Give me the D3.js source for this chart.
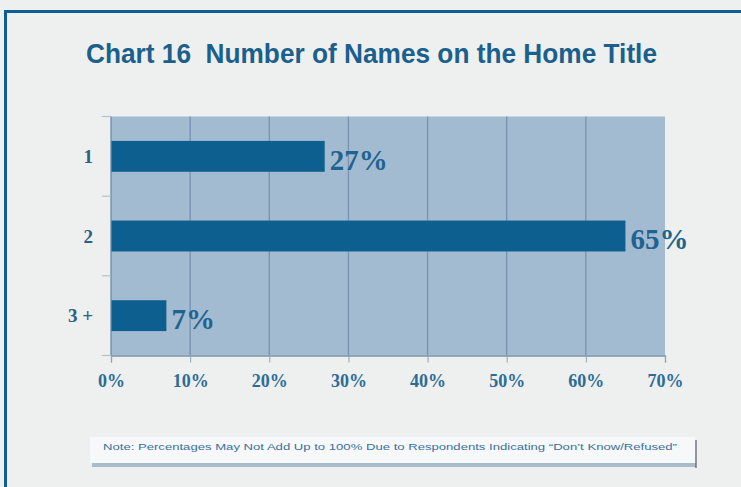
<!DOCTYPE html>
<html>
<head>
<meta charset="utf-8">
<script src="https://cdn.jsdelivr.net/npm/d3@7"></script>
<style>
  html, body { margin: 0; padding: 0; background: #eef0ef; }
  svg { display: block; }
</style>
</head>
<body>
<svg id="chart" width="741" height="487"></svg>
<script>
// Number of names on the home title (share of respondents)
const categories = ["1", "2", "3 +"];
const values = [27, 65, 7];
const xTicks = [0, 10, 20, 30, 40, 50, 60, 70];
const titleText = "Chart 16\u00a0 Number of Names on the Home Title";
const noteText = "Note: Percentages May Not Add Up to 100% Due to Respondents Indicating \u201cDon\u2019t Know/Refused\u201d";

const W = 741, H = 487;
const plot = { left: 111, top: 116.5, right: 665, bottom: 355.5 };

const svg = d3.select("#chart");

// page background and frame (top and left rules)
svg.append("rect").attr("width", W).attr("height", H).attr("fill", "#eef0ef");
svg.append("rect").attr("x", 4).attr("y", 10).attr("width", W - 4).attr("height", 3).attr("fill", "#0e5f91");
svg.append("rect").attr("x", 4).attr("y", 10).attr("width", 3).attr("height", H - 10).attr("fill", "#0e5f91");

// title
svg.append("text")
  .attr("x", 86).attr("y", 62.5)
  .attr("textLength", 571).attr("lengthAdjust", "spacingAndGlyphs")
  .attr("font-family", "'Liberation Sans', Arial, sans-serif")
  .attr("font-weight", "bold").attr("font-size", 27)
  .attr("fill", "#1b5f8c")
  .style("white-space", "pre")
  .text(titleText);

const x = d3.scaleLinear().domain([0, 70]).range([plot.left, plot.right]);
const y = d3.scaleBand().domain(categories).range([plot.top, plot.bottom])
  .paddingInner(0.6125).paddingOuter(0.30625);

// plot area
svg.append("rect")
  .attr("x", plot.left).attr("y", plot.top)
  .attr("width", plot.right - plot.left).attr("height", plot.bottom - plot.top)
  .attr("fill", "#a3bbd1");

// vertical gridlines
svg.append("g").selectAll("line").data(xTicks.slice(1, -1)).join("line")
  .attr("x1", d => x(d)).attr("x2", d => x(d))
  .attr("y1", plot.top).attr("y2", plot.bottom)
  .attr("stroke", "#7893b0").attr("stroke-width", 1.3);

// bars
svg.append("g").selectAll("rect").data(values).join("rect")
  .attr("x", x(0))
  .attr("y", (d, i) => y(categories[i]))
  .attr("width", d => x(d) - x(0))
  .attr("height", y.bandwidth())
  .attr("fill", "#0d5f8f");

// value labels
svg.append("g").selectAll("text").data(values).join("text")
  .attr("x", d => x(d) + 5)
  .attr("y", (d, i) => y(categories[i]) + y.bandwidth() - 2)
  .attr("font-family", "'Liberation Serif', 'Times New Roman', serif")
  .attr("font-weight", "bold").attr("font-size", 29)
  .attr("fill", "#1e648f")
  .text(d => d + "%");

// x axis
const xAxis = d3.axisBottom(x).tickValues(xTicks).tickSize(7).tickPadding(12)
  .tickFormat(d => d + "%");
const gx = svg.append("g").attr("transform", `translate(0,${plot.bottom})`).call(xAxis);
gx.select(".domain").attr("stroke", "#7a92ab").attr("stroke-width", 1.3);
gx.selectAll(".tick line").attr("stroke", "#8ea3b8");
gx.selectAll(".tick text")
  .attr("font-family", "'Liberation Serif', 'Times New Roman', serif")
  .attr("font-weight", "bold").attr("font-size", 18)
  .attr("fill", "#2c6c97");

// y axis: labels per category, ticks on band boundaries
const gy = svg.append("g");
gy.append("line")
  .attr("x1", plot.left).attr("x2", plot.left)
  .attr("y1", plot.top).attr("y2", plot.bottom)
  .attr("stroke", "#6f8aa6").attr("stroke-width", 1.3);
const bounds = [plot.top, ...categories.slice(1).map(c => y(c) - y.step() * y.paddingInner() / 2), plot.bottom];
gy.selectAll("line.tk").data(bounds).join("line").attr("class", "tk")
  .attr("x1", plot.left - 9).attr("x2", plot.left)
  .attr("y1", d => d).attr("y2", d => d)
  .attr("stroke", "#b4c2cf").attr("stroke-width", 1.2);
gy.selectAll("text").data(categories).join("text")
  .attr("x", 93)
  .attr("y", d => y(d) + y.bandwidth() / 2)
  .attr("dy", "0.35em")
  .attr("text-anchor", "end")
  .attr("font-family", "'Liberation Serif', 'Times New Roman', serif")
  .attr("font-weight", "bold").attr("font-size", 19)
  .attr("fill", "#2a5f86")
  .style("white-space", "pre")
  .text(d => d);

// note box with shadow
const note = svg.append("g");
note.append("rect").attr("x", 92).attr("y", 463).attr("width", 604).attr("height", 4).attr("fill", "#a9bccb");
note.append("rect").attr("x", 90).attr("y", 437).attr("width", 605).attr("height", 26).attr("fill", "#f6f8f9");
note.append("line").attr("x1", 696).attr("x2", 696).attr("y1", 440).attr("y2", 468)
  .attr("stroke", "#555c63").attr("stroke-width", 1.2);
note.append("text")
  .attr("x", 103).attr("y", 450)
  .attr("textLength", 574).attr("lengthAdjust", "spacingAndGlyphs")
  .attr("font-family", "'Liberation Sans', Arial, sans-serif")
  .attr("font-size", 9.5)
  .attr("fill", "#3a70a0")
  .text(noteText);
</script>
</body>
</html>
